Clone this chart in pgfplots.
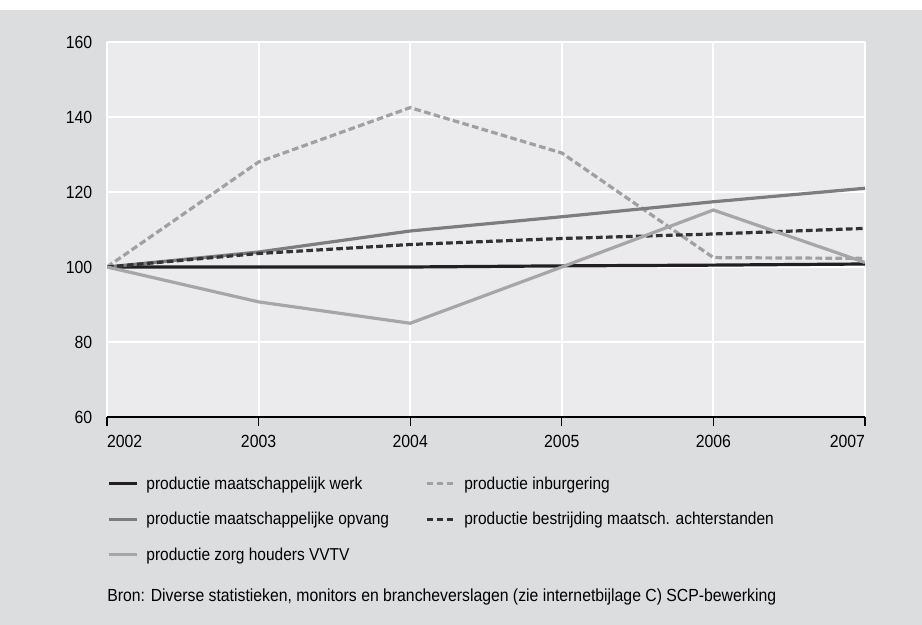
\documentclass[border=0pt]{standalone}
\usepackage{fontspec}
\setmainfont{Liberation Sans}[FakeStretch=0.9]
\usepackage{pgfplots}
\pgfplotsset{compat=1.18}
\definecolor{outerbg}{RGB}{220,221,223}
\definecolor{innerbg}{RGB}{235,235,237}
\definecolor{cwerk}{RGB}{35,31,32}
\definecolor{copvang}{RGB}{125,125,128}
\definecolor{cvvtv}{RGB}{166,166,168}
\definecolor{cinb}{RGB}{160,160,162}
\definecolor{cbestr}{RGB}{50,50,52}
\begin{document}
\begin{tikzpicture}[font=\fontsize{12.9pt}{15pt}\selectfont]
\fill[white] (0,0) rectangle (691.5pt,468.75pt);
\fill[outerbg] (0,0) rectangle (691.5pt,461.25pt);
\begin{axis}[
  at={(80.25pt,156pt)}, anchor=south west,
  scale only axis, width=568.5pt, height=281.25pt,
  xmin=2002, xmax=2007, ymin=60, ymax=160,
  axis background/.style={fill=innerbg},
  axis x line*=bottom, axis y line*=left,
  y axis line style={draw=none},
  x axis line style={draw=black, line width=1.1pt, -},
  xtick={2002,2003,2004,2005,2006,2007},
  xticklabels={\makebox[0pt][l]{2002},2003,2004,2005,2006,\makebox[0pt][r]{2007}},
  ytick={60,80,100,120,140,160},
  tick align=outside,
  xtick style={draw=black, line width=1pt},
  major tick length=6.5pt,
  ytick style={draw=none},
  grid=major,
  major grid style={white, line width=1.5pt},
  /pgf/number format/assume math mode=true,
  /pgf/number format/1000 sep={},
  tick label style={font=\fontsize{13.2pt}{15pt}\selectfont},
  xticklabel style={yshift=-4pt},
  yticklabel style={xshift=-1pt},
  legend columns=2,
  legend cell align=left,
  legend style={at={(0,0)}, anchor=north west, yshift=-42.5pt, draw=none, fill=none,
    inner xsep=0pt, inner ysep=0pt, row sep=11.8pt,
    /tikz/every odd column/.append style={column sep=4pt},
    /tikz/every even column/.append style={column sep=25pt},
    font=\fontsize{12.9pt}{15pt}\selectfont},
  legend image code/.code={\draw[#1] (0pt,0pt) -- (21pt,0pt);},
]
\addplot[cwerk, line width=2.4pt] coordinates {(2002,100) (2003,100) (2004,100) (2005,100.3) (2006,100.5) (2007,100.8)};
\addlegendentry{productie maatschappelijk werk}
\addplot[cinb, line width=2.4pt, dash pattern=on 5pt off 2.5pt] coordinates {(2002,100) (2003,128) (2004,142.5) (2005,130.4) (2006,102.5) (2007,102.3)};
\addlegendentry{productie inburgering}
\addplot[copvang, line width=2.4pt] coordinates {(2002,100) (2003,104) (2004,109.6) (2005,113.4) (2006,117.4) (2007,121)};
\addlegendentry{productie maatschappelijke opvang}
\addplot[cbestr, line width=2.4pt, dash pattern=on 5pt off 2.5pt] coordinates {(2002,100) (2003,103.6) (2004,106) (2005,107.6) (2006,108.8) (2007,110.3)};
\addlegendentry{productie bestrijding maatsch. achterstanden}
\addplot[cvvtv, line width=2.4pt] coordinates {(2002,100) (2003,90.7) (2004,85) (2005,100) (2006,115.2) (2007,101.2)};
\addlegendentry{productie zorg houders VVTV}
\end{axis}
\node[anchor=west, inner sep=0pt, font=\fontsize{13.15pt}{15pt}\selectfont] at (80.25pt,21pt) {Bron: Diverse statistieken, monitors en brancheverslagen (zie internetbijlage C) SCP-bewerking};
\end{tikzpicture}
\end{document}
